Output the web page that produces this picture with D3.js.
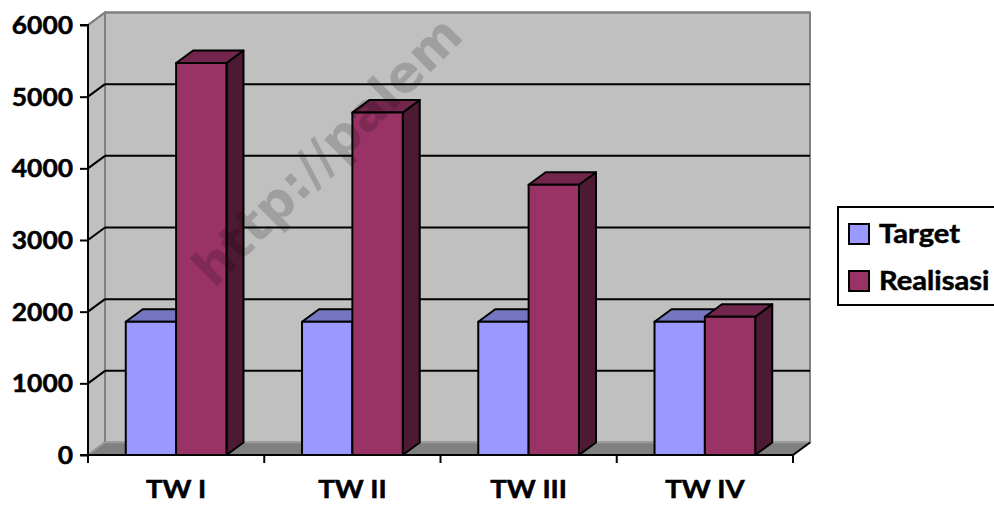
<!DOCTYPE html>
<html>
<head>
<meta charset="utf-8">
<script src="https://cdn.jsdelivr.net/npm/d3@7"></script>
<style>
  html, body { margin: 0; padding: 0; background: #ffffff; }
  svg { display: block; }
  .lbl { font-family: "Lato", "Open Sans", sans-serif; font-weight: 700; fill: #000;
         stroke: #000; stroke-width: 0.5px; }
</style>
</head>
<body>
<svg id="chart" width="994" height="505"></svg>
<script>
// Quarterly target vs. realisation
const categories = ["TW I", "TW II", "TW III", "TW IV"];
const seriesNames = ["Target", "Realisasi"];
const targetValues = [1860, 1860, 1860, 1860];
const realisasiValues = [5470, 4780, 3770, 1930];
const yTickValues = [0, 1000, 2000, 3000, 4000, 5000, 6000];

const seriesColors = {
  Target:    { front: "#9999FF", top: "#7676C0", side: "#5C5C9E" },
  Realisasi: { front: "#993366", top: "#73264D", side: "#4D1A33" }
};

const W = 994, H = 505;
const plot = { left: 88, right: 793, top: 25, bottom: 455 };
const depth = { dx: 17, dy: -12.5 };

const svg = d3.select("#chart");
svg.append("rect").attr("width", W).attr("height", H).attr("fill", "#fff");

const y = d3.scaleLinear().domain([0, 6000]).range([plot.bottom, plot.top]);
const x0 = d3.scaleBand().domain(categories).range([plot.left, plot.right]).padding(0);
const step = x0.bandwidth();
const barW = step / 3.5;               // gap width 150%
const x1 = d3.scaleBand().domain(seriesNames)
  .range([0.75 * barW, 2.75 * barW]).padding(0);

const poly = pts => pts.map(p => `${p[0]},${p[1]}`).join(" ");

// Walls and floor
const back = { l: plot.left + depth.dx, r: plot.right + depth.dx,
               t: plot.top + depth.dy, b: plot.bottom + depth.dy };

svg.append("rect")
  .attr("x", back.l).attr("y", back.t)
  .attr("width", back.r - back.l).attr("height", back.b - back.t)
  .attr("fill", "#C0C0C0").attr("stroke", "#808080").attr("stroke-width", 2);

svg.append("polygon")
  .attr("points", poly([[plot.left, plot.top], [back.l, back.t], [back.l, back.b], [plot.left, plot.bottom]]))
  .attr("fill", "#C0C0C0").attr("stroke", "#808080").attr("stroke-width", 2);

svg.append("polygon")
  .attr("points", poly([[plot.left, plot.bottom], [back.l, back.b], [back.r, back.b], [plot.right, plot.bottom]]))
  .attr("fill", "#808080").attr("stroke", "#9A9A9A").attr("stroke-width", 1.5);

// Gridlines across the back wall and the side wall
const grid = svg.append("g");
yTickValues.filter(v => v > 0).forEach(v => {
  const yy = y(v);
  const c = v === 6000 ? "#808080" : "#000";
  grid.append("line")
    .attr("x1", back.l).attr("x2", back.r)
    .attr("y1", yy + depth.dy).attr("y2", yy + depth.dy)
    .attr("stroke", c).attr("stroke-width", 2);
  grid.append("line")
    .attr("x1", plot.left).attr("x2", back.l)
    .attr("y1", yy).attr("y2", yy + depth.dy)
    .attr("stroke", c).attr("stroke-width", 2);
});

// Front edge of the floor to the right
svg.append("line")
  .attr("x1", plot.right).attr("y1", plot.bottom)
  .attr("x2", plot.right + depth.dx).attr("y2", plot.bottom + depth.dy)
  .attr("stroke", "#000").attr("stroke-width", 2);

// Bars
const rows = categories.map((c, i) => ({
  cat: c,
  values: [
    { name: "Target", value: targetValues[i] },
    { name: "Realisasi", value: realisasiValues[i] }
  ]
}));

const barsG = svg.append("g");
rows.forEach(row => {
  row.values.forEach(d => {
    const bx = x0(row.cat) + x1(d.name);
    const bw = x1.bandwidth();
    const yt = y(d.value), yb = y(0);
    const col = seriesColors[d.name];
    const g = barsG.append("g")
      .attr("stroke", "#000").attr("stroke-width", 2).attr("stroke-linejoin", "round");
    g.append("polygon")
      .attr("points", poly([[bx + bw, yt], [bx + bw + depth.dx, yt + depth.dy],
                            [bx + bw + depth.dx, yb + depth.dy], [bx + bw, yb]]))
      .attr("fill", col.side);
    g.append("polygon")
      .attr("points", poly([[bx, yt], [bx + depth.dx, yt + depth.dy],
                            [bx + bw + depth.dx, yt + depth.dy], [bx + bw, yt]]))
      .attr("fill", col.top);
    g.append("rect")
      .attr("x", bx).attr("y", yt).attr("width", bw).attr("height", yb - yt)
      .attr("fill", col.front);
  });
});

// Value axis
const yAxis = d3.axisLeft(y).tickValues(yTickValues).tickSize(8).tickPadding(7)
  .tickFormat(d3.format("d"));
const yg = svg.append("g").attr("transform", `translate(${plot.left},0)`).call(yAxis);
yg.select(".domain").attr("stroke", "#000").attr("stroke-width", 2)
  .attr("d", `M-8,${plot.top}H0V${plot.bottom}H-8`);
yg.selectAll(".tick line").attr("stroke", "#000").attr("stroke-width", 2);
yg.selectAll(".tick text").attr("class", "lbl").style("font-size", "24px")
  .attr("x", 0).attr("dy", "0.36em")
  .attr("transform", "translate(-15,0) scale(1.1,1)");

// Category axis
svg.append("line")
  .attr("x1", plot.left).attr("x2", plot.right)
  .attr("y1", plot.bottom).attr("y2", plot.bottom)
  .attr("stroke", "#000").attr("stroke-width", 2);
const bounds = categories.map(c => x0(c)).concat([plot.right]);
svg.append("g").selectAll("line").data(bounds).join("line")
  .attr("x1", d => d).attr("x2", d => d)
  .attr("y1", plot.bottom).attr("y2", plot.bottom + 8)
  .attr("stroke", "#000").attr("stroke-width", 2);

const xAxis = d3.axisBottom(x0).tickSize(0).tickPadding(26);
const xg = svg.append("g").attr("transform", `translate(0,${plot.bottom})`).call(xAxis);
xg.select(".domain").remove();
xg.selectAll(".tick text").attr("class", "lbl").style("font-size", "24px")
  .attr("transform", "scale(1.15,1)");

// Legend
const lg = svg.append("g");
lg.append("rect").attr("x", 838).attr("y", 207).attr("width", 170).attr("height", 98)
  .attr("fill", "#fff").attr("stroke", "#000").attr("stroke-width", 2);
seriesNames.forEach((s, i) => {
  const yy = 224 + i * 47;
  lg.append("rect").attr("x", 849).attr("y", yy).attr("width", 20).attr("height", 20)
    .attr("fill", seriesColors[s].front).attr("stroke", "#000").attr("stroke-width", 2);
  lg.append("text").attr("class", "lbl")
    .attr("transform", `translate(879,${yy + 19}) scale(1.12,1)`)
    .style("font-size", "26px").text(s);
});

// Watermark
svg.append("text")
  .attr("transform", "translate(214,289) rotate(-45)")
  .style("font-family", "'DejaVu Sans', sans-serif")
  .style("font-weight", "700").style("font-size", "51px")
  .attr("fill", "#000").attr("fill-opacity", 0.17)
  .text("http://palem");
</script>
</body>
</html>
